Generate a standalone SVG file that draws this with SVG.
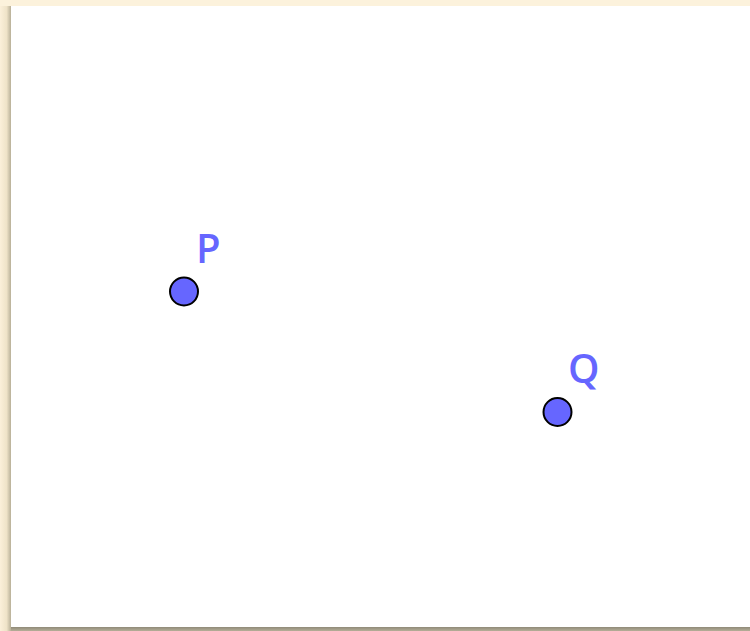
<svg xmlns="http://www.w3.org/2000/svg" width="750" height="631" viewBox="0 0 750 631">
<defs>
<linearGradient id="ls" x1="0" y1="0" x2="1" y2="0">
<stop offset="0" stop-color="#FBF0DA"/>
<stop offset="0.6" stop-color="#EFE3C8"/>
<stop offset="1" stop-color="#B8B098"/>
</linearGradient>
<linearGradient id="bs" x1="0" y1="0" x2="0" y2="1">
<stop offset="0" stop-color="#8F8A78"/>
<stop offset="1" stop-color="#B5AE98"/>
</linearGradient>
<style>
.pt{fill:#6666FF;stroke:#000;stroke-width:2}
.lb{fill:#6666FF;font-family:"Open Sans",sans-serif;font-size:40px;font-weight:600}
</style>
</defs>
<rect width="750" height="631" fill="#FCF2DC"/>
<rect x="0" y="6" width="11" height="625" fill="url(#ls)"/>
<rect x="11" y="627" width="739" height="4" fill="url(#bs)"/>
<rect x="11" y="6" width="739" height="621" fill="#FFFFFF"/>
<g id="P">
<circle class="pt" cx="184" cy="291.5" r="14"/>
<text class="lb" x="196" y="263">P</text>
</g>
<g id="Q">
<circle class="pt" cx="557.5" cy="412" r="14"/>
<text class="lb" x="568" y="383">Q</text>
</g>
<g id="connectors"/>
</svg>
